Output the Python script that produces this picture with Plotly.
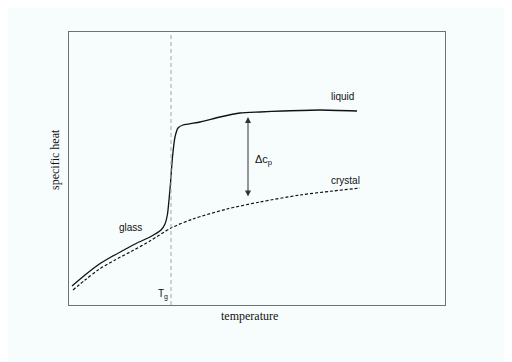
import plotly.graph_objects as go

# glass -> liquid curve (arbitrary units)
liquid_t = [3, 16, 29, 42, 55, 68, 81, 92, 96, 98.5, 100, 101.5, 103.5, 106, 109, 114,
            131, 151, 171, 191, 214, 251, 288]
liquid_cp = [19, 30, 40, 48, 55, 62, 68, 75, 81, 91, 105, 122, 148, 168, 177, 180,
             183, 188, 192, 193, 194, 195, 194]

# crystal curve
crystal_t = [4, 16, 29, 46, 63, 81, 102, 124, 158, 191, 231, 264, 291]
crystal_cp = [15, 25, 35, 45, 54, 64, 77, 86, 96, 103, 110, 114, 117]

tg = 102
dcp_t = 179
dcp_low, dcp_high = 107, 188

fig = go.Figure()

fig.add_trace(go.Scatter(x=liquid_t, y=liquid_cp, mode="lines",
                         line=dict(color="#111111", width=1.3, shape="spline", smoothing=0.6),
                         hoverinfo="skip", showlegend=False))
fig.add_trace(go.Scatter(x=crystal_t, y=crystal_cp, mode="lines",
                         line=dict(color="#111111", width=1.2, dash="3px,2px",
                                   shape="spline", smoothing=0.8),
                         hoverinfo="skip", showlegend=False))

# Tg marker
fig.add_shape(type="line", x0=tg, x1=tg, y0=0, y1=1, xref="x", yref="paper",
              line=dict(color="#a0a8a8", width=1, dash="4px,3px"))

# delta cp arrow
fig.add_annotation(x=dcp_t, y=dcp_high, ax=dcp_t, ay=dcp_low, xref="x", yref="y",
                   axref="x", ayref="y", text="", showarrow=True,
                   arrowhead=2, startarrowhead=2, arrowside="end+start",
                   arrowsize=1.2, arrowwidth=1, arrowcolor="#333333")

lab_font = dict(family="Liberation Sans, Arial", size=10, color="#111111")
fig.add_annotation(x=273, y=209, text="liquid", showarrow=False, font=lab_font)
fig.add_annotation(x=276, y=125, text="crystal", showarrow=False, font=lab_font)
fig.add_annotation(x=61, y=78, text="glass", showarrow=False, font=lab_font)
fig.add_annotation(x=194, y=145, text="Δc<sub>p</sub>", showarrow=False,
                   font=dict(family="Liberation Sans, Arial", size=11, color="#111111"))
fig.add_annotation(x=94, y=11, text="T<sub>g</sub>", showarrow=False, font=lab_font)

# axis labels
serif = dict(family="Liberation Serif, Times New Roman", size=12, color="#111111")
fig.add_annotation(x=(249 - 69) / 376, y=-11 / 273, xref="paper", yref="paper",
                   yanchor="middle", text="temperature", showarrow=False, font=serif)
fig.add_annotation(x=-14 / 376, y=145 / 273, xref="paper", yref="paper",
                   xanchor="center", yanchor="middle", textangle=-90,
                   text="specific heat", showarrow=False, font=serif)

axis = dict(showgrid=False, zeroline=False, showticklabels=False, ticks="",
            showline=True, mirror=True, linecolor="#6b7373", linewidth=1.2)

fig.update_layout(
    width=512, height=362,
    margin=dict(l=61, r=75, t=24, b=65),
    paper_bgcolor="#f7fcfc", plot_bgcolor="#f7fcfc",
    xaxis=dict(range=[0, 376], **axis),
    yaxis=dict(range=[0, 273], **axis),
)

fig.write_html("out.html")
